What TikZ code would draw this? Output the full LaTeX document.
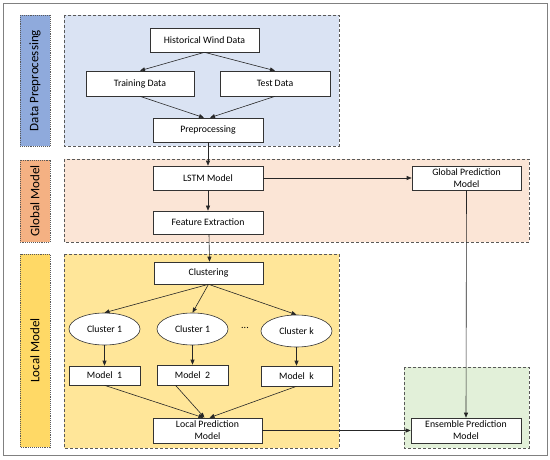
\documentclass[tikz,border=0pt]{standalone}
\usepackage{fontspec}
\setmainfont{Carlito}
\usetikzlibrary{shapes.geometric,arrows.meta}
\definecolor{bluereg}{HTML}{DAE3F3}
\definecolor{blueside}{HTML}{8FAADC}
\definecolor{orangereg}{HTML}{FBE5D6}
\definecolor{orangeside}{HTML}{F4B183}
\definecolor{yellowreg}{HTML}{FFE699}
\definecolor{yellowside}{HTML}{FFD966}
\definecolor{greenreg}{HTML}{E2F0D9}
\definecolor{edgegray}{HTML}{595959}
\tikzset{
  region/.style={draw=edgegray, densely dashed, line width=0.8pt},
  sidelabel/.style={draw=edgegray, densely dotted, line width=0.9pt, rotate=90, minimum height=30pt, inner sep=0pt, font=\fontsize{13}{15}\selectfont},
  box/.style={draw=black!80, fill=white, line width=0.6pt, minimum height=24pt, inner sep=1pt, align=center, font=\fontsize{9.8}{11}\selectfont},
  ell/.style={draw=black!80, fill=white, line width=0.6pt, ellipse, minimum width=71pt, minimum height=32pt, inner sep=0pt, font=\fontsize{9.8}{11}\selectfont},
  arr/.style={draw=black!85, line width=0.6pt, -{Triangle[length=5pt,width=4pt]}}
}
\begin{document}
\begin{tikzpicture}[x=1pt,y=-1pt]
\useasboundingbox (0,0) rectangle (550,460);
% outer frame
\draw[draw=gray, line width=0.8pt] (3,3) rectangle (547,455);
% regions
\path[region, fill=bluereg] (64,15) rectangle (339,146);
\path[region, fill=orangereg] (64,159) rectangle (529,242);
\path[region, fill=yellowreg] (64,254) rectangle (339,448);
\path[region, fill=greenreg] (404,367) rectangle (529,448);
% side labels
\node[sidelabel, fill=blueside, minimum width=131pt] (sdp) at (35,80.5) {Data Preprocessing};
\node[sidelabel, fill=orangeside, minimum width=82pt] (sgm) at (35,201) {Global Model};
\node[sidelabel, fill=yellowside, minimum width=193pt] (slm) at (35,350.5) {Local Model};
% data preprocessing
\node[box, minimum width=109pt] (hist) at (204.5,40) {Historical Wind Data};
\node[box, minimum width=108pt, minimum height=25pt] (train) at (140,83.5) {Training Data};
\node[box, minimum width=110pt, minimum height=25pt] (test) at (275,83.5) {Test Data};
\node[box, minimum width=110pt] (prep) at (208,130) {Preprocessing};
% global model
\node[box, minimum width=110pt] (lstm) at (208,178) {LSTM Model};
\node[box, minimum width=110pt, minimum height=23pt] (feat) at (208,222.5) {Feature Extraction};
\node[box, minimum width=109pt, font=\fontsize{9.8}{12}\selectfont] (gpm) at (466.5,178) {Global Prediction\\Model};
% local model
\node[box, minimum width=109pt, minimum height=22pt] (clus) at (208.5,273) {Clustering};
\node[ell] (c1) at (104.5,329) {Cluster 1};
\node[ell] (c2) at (192.5,329) {Cluster 1};
\node[ell] (ck) at (296.5,331) {Cluster k};
\node[font=\fontsize{10}{12}\selectfont] (dots) at (245,328) {...};
\node[box, minimum width=71pt, minimum height=19pt] (m1) at (104.5,375.5) {Model\ \ 1};
\node[box, minimum width=71pt, minimum height=20pt] (m2) at (192.5,375) {Model\ \ 2};
\node[box, minimum width=71pt, minimum height=20pt] (mk) at (296.5,376) {Model\ \ k};
\node[box, minimum width=109pt, minimum height=25pt, font=\fontsize{9.8}{12}\selectfont] (lpm) at (207.5,430.5) {Local Prediction\\Model};
\node[box, minimum width=110pt, minimum height=25pt, font=\fontsize{9.8}{12}\selectfont] (epm) at (466,430.5) {Ensemble Prediction\\Model};
% connectors
\draw[arr] (hist.south) -- (train.north);
\draw[arr] (hist.south) -- (test.north);
\draw[arr] (train.south) -- ([xshift=-4pt]prep.north);
\draw[arr] (test.south) -- ([xshift=2pt]prep.north);
\draw[arr] (prep.south) -- (lstm.north);
\draw[arr] (lstm.south) -- (feat.north);
\draw[arr] ([xshift=1pt]feat.south) -- ([xshift=1pt]clus.north);
\draw[arr] (lstm.east) -- (gpm.west);
\draw[arr] (gpm.south) -- (epm.north);
\draw[arr] (clus.south) -- (c1.north);
\draw[arr] (clus.south) -- (c2.north);
\draw[arr] (clus.south) -- (ck.north);
\draw[arr] (c1.south) -- (m1.north);
\draw[arr] (c2.south) -- (m2.north);
\draw[arr] (ck.south) -- (mk.north);
\draw[arr] (m1.south) -- ([xshift=-4pt]lpm.north);
\draw[arr] ([xshift=-17pt]m2.south) -- ([xshift=-3pt]lpm.north);
\draw[arr] (mk.south) -- ([xshift=2pt]lpm.north);
\draw[arr] (lpm.east) -- (epm.west);
\end{tikzpicture}
\end{document}
